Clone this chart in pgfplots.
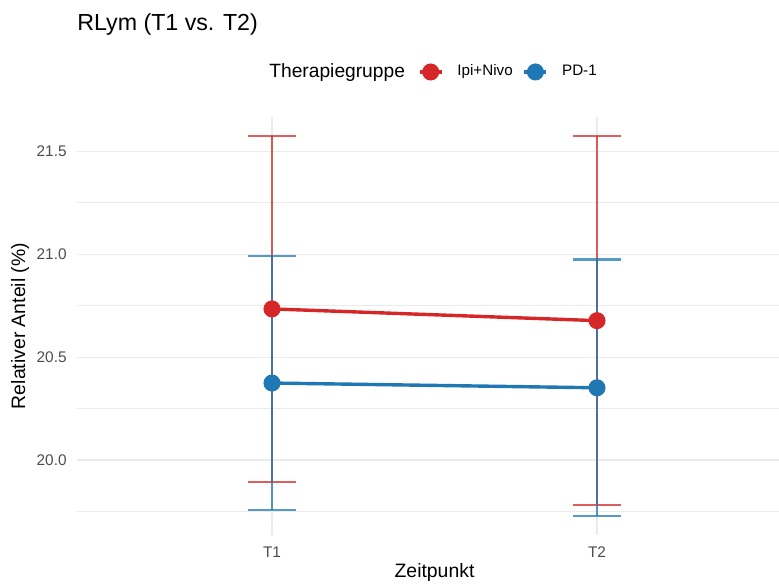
\documentclass[border=0pt]{standalone}
\usepackage{fontspec}
\setmainfont{Liberation Sans}
\usepackage{pgfplots}
\usepackage{pgfplotstable}
\pgfplotsset{compat=1.18}
\definecolor{cred}{HTML}{D62728}
\definecolor{cblue}{HTML}{1F77B4}
\definecolor{gridc}{HTML}{EBEBEB}
\definecolor{tickc}{HTML}{4D4D4D}

\pgfplotstableread{
x y e
1 20.735 0.840
2 20.678 0.897
}\ipinivo
\pgfplotstableread{
x y e
1 20.375 0.618
2 20.352 0.623
}\pdone

\begin{document}
\begin{tikzpicture}[x=1pt,y=1pt]
\useasboundingbox (0,0) rectangle (389.5,-291.5);
\node[anchor=west, font=\fontsize{11.6}{13}\selectfont, inner sep=0pt] at (38.5,-12.5) {RLym (T1 vs. T2)};
\begin{axis}[
  at={(38.5pt,-58.5pt)}, anchor=north west,
  scale only axis, width=357.5pt, height=209pt,
  xmin=0.4, xmax=2.6, ymin=19.637, ymax=21.667,
  xtick={1,2}, xticklabels={T1,T2},
  ytick={20,20.5,21,21.5},
  yticklabels={20.0,20.5,21.0,21.5},
  minor ytick={19.75,20.25,20.75,21.25},
  ymajorgrids, yminorgrids, xmajorgrids,
  major grid style={gridc, line width=0.8pt},
  minor grid style={gridc, line width=0.45pt},
  axis line style={draw=none},
  major tick length=0pt, minor tick length=0pt,
  tick style={draw=none},
  xticklabel style={font=\fontsize{7.7}{9}\selectfont, text=tickc, inner sep=0pt, yshift=-5.5pt},
  yticklabel style={font=\fontsize{7.7}{9}\selectfont, text=tickc, inner sep=0pt, xshift=-5pt},
  xlabel={Zeitpunkt},
  ylabel={Relativer Anteil (\%)},
  xlabel style={at={(axis description cs:0.5,-0.0885)}, anchor=center, font=\fontsize{9.7}{11}\selectfont, inner sep=0pt},
  ylabel style={at={(axis description cs:-0.0797,0.5)}, anchor=center, font=\fontsize{9.7}{11}\selectfont, inner sep=0pt},
  legend columns=3,
  legend style={at={(axis description cs:0.498,1.1077)}, anchor=center, draw=none, fill=none,
    inner sep=0pt, outer sep=0pt, font=\fontsize{7.6}{9}\selectfont,
    nodes={inner sep=0pt},
    /tikz/column 1/.style={column sep=0pt},
    /tikz/column 2/.style={column sep=6.5pt},
    /tikz/column 3/.style={column sep=7pt},
    /tikz/column 4/.style={column sep=5pt},
    /tikz/column 5/.style={column sep=7pt}},
  legend image code/.code={\draw[line width=1.7pt, mark repeat=2,mark phase=2] plot coordinates {(0pt,0pt) (5.5pt,0pt) (11pt,0pt)};},
]
\addlegendimage{empty legend}
\addlegendentry{\fontsize{9.6}{11}\selectfont Therapiegruppe}
\addplot[cred, line width=1.7pt, mark=*, mark size=3.4pt, mark options={solid}] table[x=x,y=y] {\ipinivo};
\addlegendentry{Ipi+Nivo}
\addplot[cblue, line width=1.7pt, mark=*, mark size=3.4pt, mark options={solid}] table[x=x,y=y] {\pdone};
\addlegendentry{PD-1}
\addplot[cred, only marks, mark=none, forget plot,
  error bars/.cd, y dir=both, y explicit, error mark=|,
  error bar style={cred, line width=1.1pt, draw opacity=0.75},
  error mark options={cred, mark size=12pt, line width=1.1pt, draw opacity=0.75}]
  table[x=x,y=y,y error=e] {\ipinivo};
\addplot[cblue, only marks, mark=none, forget plot,
  error bars/.cd, y dir=both, y explicit, error mark=|,
  error bar style={cblue, line width=1.1pt, draw opacity=0.75},
  error mark options={cblue, mark size=12pt, line width=1.1pt, draw opacity=0.75}]
  table[x=x,y=y,y error=e] {\pdone};
\end{axis}
\end{tikzpicture}
\end{document}
